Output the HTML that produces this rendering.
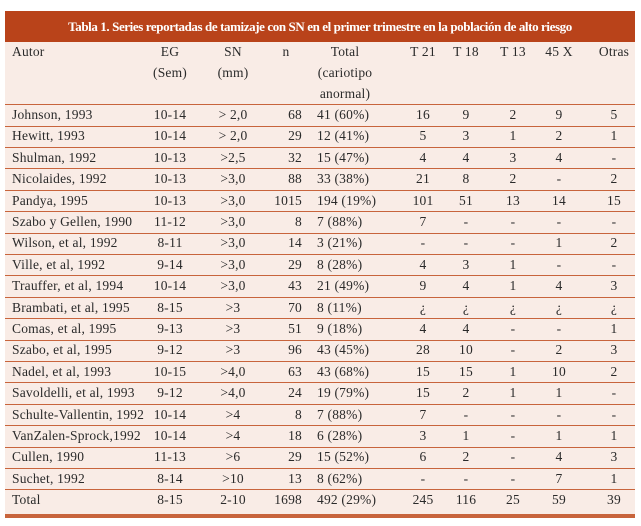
<!DOCTYPE html>
<html><head><meta charset="utf-8"><style>
body{margin:0;width:641px;height:526px;background:#fff;position:relative;overflow:hidden;font-family:"Liberation Serif",serif;color:#2a2a2a;font-size:13.5px;letter-spacing:0.2px}
#tbl{position:absolute;left:5px;top:11px;width:630px;height:507px;background:#f9ece6}
#title{position:absolute;left:0;top:0;width:630px;height:31px;background:#b9431a;color:#fff;font-weight:bold;font-size:13px;text-align:center;line-height:31px;letter-spacing:-0.4px}
.c{position:absolute;white-space:nowrap;line-height:16px}
.line{position:absolute;left:0;width:630px;height:1px;background:#c8643c}
</style></head><body>
<div id="tbl">
<div id="title">Tabla 1. Series reportadas de tamizaje con SN en el primer trimestre en la población de alto riesgo</div>
</div>
<script>
const tbl=document.getElementById('tbl');
const rows=[
["Johnson, 1993","10-14","> 2,0","68","41 (60%)","16","9","2","9","5"],
["Hewitt, 1993","10-14","> 2,0","29","12 (41%)","5","3","1","2","1"],
["Shulman, 1992","10-13",">2,5","32","15 (47%)","4","4","3","4","-"],
["Nicolaides, 1992","10-13",">3,0","88","33 (38%)","21","8","2","-","2"],
["Pandya, 1995","10-13",">3,0","1015","194 (19%)","101","51","13","14","15"],
["Szabo y Gellen, 1990","11-12",">3,0","8","7 (88%)","7","-","-","-","-"],
["Wilson, et al, 1992","8-11",">3,0","14","3 (21%)","-","-","-","1","2"],
["Ville, et al, 1992","9-14",">3,0","29","8 (28%)","4","3","1","-","-"],
["Trauffer, et al, 1994","10-14",">3,0","43","21 (49%)","9","4","1","4","3"],
["Brambati, et al, 1995","8-15",">3","70","8 (11%)","¿","¿","¿","¿","¿"],
["Comas, et al, 1995","9-13",">3","51","9 (18%)","4","4","-","-","1"],
["Szabo, et al, 1995","9-12",">3","96","43 (45%)","28","10","-","2","3"],
["Nadel, et al, 1993","10-15",">4,0","63","43 (68%)","15","15","1","10","2"],
["Savoldelli, et al, 1993","9-12",">4,0","24","19 (79%)","15","2","1","1","-"],
["Schulte-Vallentin, 1992","10-14",">4","8","7 (88%)","7","-","-","-","-"],
["VanZalen-Sprock,1992","10-14",">4","18","6 (28%)","3","1","-","1","1"],
["Cullen, 1990","11-13",">6","29","15 (52%)","6","2","-","4","3"],
["Suchet, 1992","8-14",">10","13","8 (62%)","-","-","-","7","1"],
["Total","8-15","2-10","1698","492 (29%)","245","116","25","59","39"]];
const cols=[[7,'l'],[165,'c'],[228,'c'],[297,'r'],[312,'l'],[418,'c'],[461,'c'],[508,'c'],[554,'c'],[609,'c']];
function put(txt,x,al,y,name){
  const d=document.createElement('div');
  d.className='c';
  
  
  d.textContent=txt;d.style.top=(y-8)+'px';
  if(al==='l')d.style.left=x+'px';
  else if(al==='r'){d.style.right=(630-x)+'px';}
  else{d.style.left=(x-60)+'px';d.style.width='120px';d.style.textAlign='center';}
  tbl.appendChild(d);
}
function line(y,h){const l=document.createElement('div');l.className='line';l.style.top=y+'px';if(h)l.style.height=h+'px';


tbl.appendChild(l);}
const hdr=[["Autor",7,'l',41],["EG",165,'c',41],["(Sem)",165,'c',62],["SN",228,'c',41],["(mm)",228,'c',62],["n",281,'c',41],["Total",340,'c',41],["(cariotipo",340,'c',62],["anormal)",340,'c',83],["T 21",418,'c',41],["T 18",461,'c',41],["T 13",508,'c',41],["45 X",554,'c',41],["Otras",609,'c',41]];
hdr.forEach(h=>put(h[0],h[1],h[2],h[3],'header-cell'));
line(93);
rows.forEach((r,i)=>{
  const cy=104+i*21.4;
  r.forEach((v,j)=>put(v,cols[j][0],cols[j][1],cy,i===rows.length-1?'total-cell':'data-cell'));
  if(i<rows.length-1)line(Math.round(cy+10.5));
});
line(503,4);
</script>
</body></html>
